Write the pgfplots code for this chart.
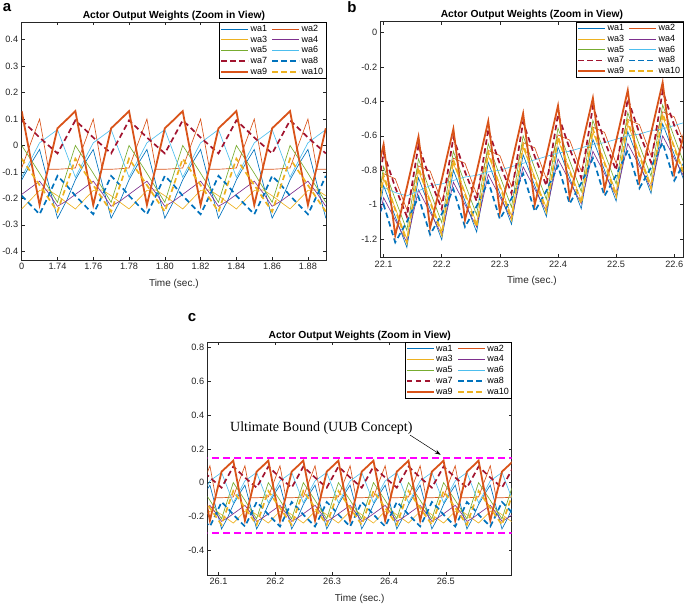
\documentclass[border=0pt]{standalone}
\usepackage{pgfplots}
\pgfplotsset{compat=1.18}
\usepackage{pgfplotstable}
\usepackage{fontspec}
\setmainfont{Liberation Sans}
\newfontfamily\timesfont{Liberation Serif}
\usetikzlibrary{arrows.meta}

\definecolor{c1}{RGB}{0,114,189}
\definecolor{c2}{RGB}{217,83,25}
\definecolor{c3}{RGB}{237,177,32}
\definecolor{c4}{RGB}{126,47,142}
\definecolor{c5}{RGB}{119,172,48}
\definecolor{c6}{RGB}{77,190,238}
\definecolor{c7}{RGB}{162,20,47}
\definecolor{axgray}{RGB}{38,38,38}
\definecolor{bound}{RGB}{255,0,255}

% panel a: 1.72 .. 1.89 s
\pgfplotstableread{
t wa1 wa2 wa3 wa4 wa5 wa6 wa7 wa8 wa9 wa10
1.720 -0.130 -0.085 -0.240 -0.185 0.000 -0.120 0.095 -0.190 0.130 -0.050
1.725 -0.070 0.008 -0.205 -0.160 -0.052 -0.055 0.063 -0.225 -0.050 -0.100
1.730 -0.015 0.100 -0.170 -0.135 -0.105 0.010 0.030 -0.260 -0.225 -0.150
1.735 -0.145 -0.090 -0.168 -0.180 -0.160 0.035 0.000 -0.190 -0.080 -0.200
1.740 -0.275 -0.090 -0.190 -0.230 -0.215 0.060 -0.030 -0.115 0.065 -0.250
1.745 -0.210 -0.088 -0.215 -0.210 -0.107 -0.030 0.032 -0.150 0.097 -0.150
1.750 -0.130 -0.085 -0.240 -0.185 0.000 -0.120 0.095 -0.190 0.130 -0.050
1.755 -0.070 0.008 -0.205 -0.160 -0.052 -0.055 0.063 -0.225 -0.050 -0.100
1.760 -0.015 0.100 -0.170 -0.135 -0.105 0.010 0.030 -0.260 -0.225 -0.150
1.765 -0.145 -0.090 -0.168 -0.180 -0.160 0.035 0.000 -0.190 -0.080 -0.200
1.770 -0.275 -0.090 -0.190 -0.230 -0.215 0.060 -0.030 -0.115 0.065 -0.250
1.775 -0.210 -0.088 -0.215 -0.210 -0.107 -0.030 0.032 -0.150 0.097 -0.150
1.780 -0.130 -0.085 -0.240 -0.185 0.000 -0.120 0.095 -0.190 0.130 -0.050
1.785 -0.070 0.008 -0.205 -0.160 -0.052 -0.055 0.063 -0.225 -0.050 -0.100
1.790 -0.015 0.100 -0.170 -0.135 -0.105 0.010 0.030 -0.260 -0.225 -0.150
1.795 -0.145 -0.090 -0.168 -0.180 -0.160 0.035 0.000 -0.190 -0.080 -0.200
1.800 -0.275 -0.090 -0.190 -0.230 -0.215 0.060 -0.030 -0.115 0.065 -0.250
1.805 -0.210 -0.088 -0.215 -0.210 -0.107 -0.030 0.032 -0.150 0.097 -0.150
1.810 -0.130 -0.085 -0.240 -0.185 0.000 -0.120 0.095 -0.190 0.130 -0.050
1.815 -0.070 0.008 -0.205 -0.160 -0.052 -0.055 0.063 -0.225 -0.050 -0.100
1.820 -0.015 0.100 -0.170 -0.135 -0.105 0.010 0.030 -0.260 -0.225 -0.150
1.825 -0.145 -0.090 -0.168 -0.180 -0.160 0.035 0.000 -0.190 -0.080 -0.200
1.830 -0.275 -0.090 -0.190 -0.230 -0.215 0.060 -0.030 -0.115 0.065 -0.250
1.835 -0.210 -0.088 -0.215 -0.210 -0.107 -0.030 0.032 -0.150 0.097 -0.150
1.840 -0.130 -0.085 -0.240 -0.185 0.000 -0.120 0.095 -0.190 0.130 -0.050
1.845 -0.070 0.008 -0.205 -0.160 -0.052 -0.055 0.063 -0.225 -0.050 -0.100
1.850 -0.015 0.100 -0.170 -0.135 -0.105 0.010 0.030 -0.260 -0.225 -0.150
1.855 -0.145 -0.090 -0.168 -0.180 -0.160 0.035 0.000 -0.190 -0.080 -0.200
1.860 -0.275 -0.090 -0.190 -0.230 -0.215 0.060 -0.030 -0.115 0.065 -0.250
1.865 -0.210 -0.088 -0.215 -0.210 -0.107 -0.030 0.032 -0.150 0.097 -0.150
1.870 -0.130 -0.085 -0.240 -0.185 0.000 -0.120 0.095 -0.190 0.130 -0.050
1.875 -0.070 0.008 -0.205 -0.160 -0.052 -0.055 0.063 -0.225 -0.050 -0.100
1.880 -0.015 0.100 -0.170 -0.135 -0.105 0.010 0.030 -0.260 -0.225 -0.150
1.885 -0.145 -0.090 -0.168 -0.180 -0.160 0.035 0.000 -0.190 -0.080 -0.200
1.890 -0.275 -0.090 -0.190 -0.230 -0.215 0.060 -0.030 -0.115 0.065 -0.250
}\tabA

% panel b: 22.08 .. 22.62 s
\pgfplotstableread{
t wa1 wa2 wa3 wa4 wa5 wa6 wa7 wa8 wa9 wa10
22.08 -1.295 -1.075 -1.245 -1.265 -1.195 -0.880 -1.115 -1.145 -0.945 -1.265
22.10 -0.890 -0.820 -0.850 -0.960 -0.780 -0.900 -0.700 -1.000 -0.650 -0.830
22.12 -1.070 -0.850 -1.020 -1.090 -0.970 -0.930 -0.900 -1.220 -1.180 -1.030
22.14 -1.250 -1.030 -1.200 -1.220 -1.150 -0.950 -1.070 -1.100 -0.900 -1.220
22.16 -0.845 -0.775 -0.805 -0.915 -0.735 -0.920 -0.655 -0.955 -0.605 -0.785
22.18 -1.025 -0.805 -0.975 -1.045 -0.925 -0.890 -0.855 -1.175 -1.135 -0.985
22.20 -1.205 -0.985 -1.155 -1.175 -1.105 -0.880 -1.025 -1.055 -0.855 -1.175
22.22 -0.800 -0.730 -0.760 -0.870 -0.690 -0.860 -0.610 -0.910 -0.560 -0.740
22.24 -0.980 -0.760 -0.930 -1.000 -0.880 -0.840 -0.810 -1.130 -1.090 -0.940
22.26 -1.160 -0.940 -1.110 -1.130 -1.060 -0.830 -0.980 -1.010 -0.810 -1.130
22.28 -0.755 -0.685 -0.715 -0.825 -0.645 -0.810 -0.565 -0.865 -0.515 -0.695
22.30 -0.935 -0.715 -0.885 -0.955 -0.835 -0.800 -0.765 -1.085 -1.045 -0.895
22.32 -1.115 -0.895 -1.065 -1.085 -1.015 -0.780 -0.935 -0.965 -0.765 -1.085
22.34 -0.710 -0.640 -0.670 -0.780 -0.600 -0.760 -0.520 -0.820 -0.470 -0.650
22.36 -0.890 -0.670 -0.840 -0.910 -0.790 -0.740 -0.720 -1.040 -1.000 -0.850
22.38 -1.070 -0.850 -1.020 -1.040 -0.970 -0.720 -0.890 -0.920 -0.720 -1.040
22.40 -0.665 -0.595 -0.625 -0.735 -0.555 -0.700 -0.475 -0.775 -0.425 -0.605
22.42 -0.845 -0.625 -0.795 -0.865 -0.745 -0.690 -0.675 -0.995 -0.955 -0.805
22.44 -1.025 -0.805 -0.975 -0.995 -0.925 -0.670 -0.845 -0.875 -0.675 -0.995
22.46 -0.620 -0.550 -0.580 -0.690 -0.510 -0.650 -0.430 -0.730 -0.380 -0.560
22.48 -0.800 -0.580 -0.750 -0.820 -0.700 -0.640 -0.630 -0.950 -0.910 -0.760
22.50 -0.980 -0.760 -0.930 -0.950 -0.880 -0.620 -0.800 -0.830 -0.630 -0.950
22.52 -0.575 -0.505 -0.535 -0.645 -0.465 -0.600 -0.385 -0.685 -0.335 -0.515
22.54 -0.755 -0.535 -0.705 -0.775 -0.655 -0.590 -0.585 -0.905 -0.865 -0.715
22.56 -0.935 -0.715 -0.885 -0.905 -0.835 -0.570 -0.755 -0.785 -0.585 -0.905
22.58 -0.530 -0.460 -0.490 -0.600 -0.420 -0.560 -0.340 -0.640 -0.290 -0.470
22.60 -0.710 -0.490 -0.660 -0.730 -0.610 -0.540 -0.540 -0.860 -0.820 -0.670
22.62 -0.890 -0.670 -0.840 -0.860 -0.790 -0.520 -0.710 -0.740 -0.540 -0.860
}\tabB

% panel c: 26.064 .. 26.619 s
\pgfplotstableread{
t wa1 wa2 wa3 wa4 wa5 wa6 wa7 wa8 wa9 wa10
26.0643 -0.130 -0.085 -0.240 -0.185 0.000 -0.120 0.095 -0.190 0.130 -0.050
26.0746 -0.070 0.008 -0.205 -0.160 -0.052 -0.055 0.063 -0.225 -0.050 -0.100
26.0849 -0.015 0.100 -0.170 -0.135 -0.105 0.010 0.030 -0.260 -0.225 -0.150
26.0951 -0.145 -0.090 -0.168 -0.180 -0.160 0.035 0.000 -0.190 -0.080 -0.200
26.1054 -0.275 -0.090 -0.190 -0.230 -0.215 0.060 -0.030 -0.115 0.065 -0.250
26.1157 -0.210 -0.088 -0.215 -0.210 -0.107 -0.030 0.032 -0.150 0.097 -0.150
26.1260 -0.130 -0.085 -0.240 -0.185 0.000 -0.120 0.095 -0.190 0.130 -0.050
26.1363 -0.070 0.008 -0.205 -0.160 -0.052 -0.055 0.063 -0.225 -0.050 -0.100
26.1465 -0.015 0.100 -0.170 -0.135 -0.105 0.010 0.030 -0.260 -0.225 -0.150
26.1568 -0.145 -0.090 -0.168 -0.180 -0.160 0.035 0.000 -0.190 -0.080 -0.200
26.1671 -0.275 -0.090 -0.190 -0.230 -0.215 0.060 -0.030 -0.115 0.065 -0.250
26.1774 -0.210 -0.088 -0.215 -0.210 -0.107 -0.030 0.032 -0.150 0.097 -0.150
26.1877 -0.130 -0.085 -0.240 -0.185 0.000 -0.120 0.095 -0.190 0.130 -0.050
26.1979 -0.070 0.008 -0.205 -0.160 -0.052 -0.055 0.063 -0.225 -0.050 -0.100
26.2082 -0.015 0.100 -0.170 -0.135 -0.105 0.010 0.030 -0.260 -0.225 -0.150
26.2185 -0.145 -0.090 -0.168 -0.180 -0.160 0.035 0.000 -0.190 -0.080 -0.200
26.2288 -0.275 -0.090 -0.190 -0.230 -0.215 0.060 -0.030 -0.115 0.065 -0.250
26.2391 -0.210 -0.088 -0.215 -0.210 -0.107 -0.030 0.032 -0.150 0.097 -0.150
26.2493 -0.130 -0.085 -0.240 -0.185 0.000 -0.120 0.095 -0.190 0.130 -0.050
26.2596 -0.070 0.008 -0.205 -0.160 -0.052 -0.055 0.063 -0.225 -0.050 -0.100
26.2699 -0.015 0.100 -0.170 -0.135 -0.105 0.010 0.030 -0.260 -0.225 -0.150
26.2802 -0.145 -0.090 -0.168 -0.180 -0.160 0.035 0.000 -0.190 -0.080 -0.200
26.2905 -0.275 -0.090 -0.190 -0.230 -0.215 0.060 -0.030 -0.115 0.065 -0.250
26.3007 -0.210 -0.088 -0.215 -0.210 -0.107 -0.030 0.032 -0.150 0.097 -0.150
26.3110 -0.130 -0.085 -0.240 -0.185 0.000 -0.120 0.095 -0.190 0.130 -0.050
26.3213 -0.070 0.008 -0.205 -0.160 -0.052 -0.055 0.063 -0.225 -0.050 -0.100
26.3316 -0.015 0.100 -0.170 -0.135 -0.105 0.010 0.030 -0.260 -0.225 -0.150
26.3419 -0.145 -0.090 -0.168 -0.180 -0.160 0.035 0.000 -0.190 -0.080 -0.200
26.3521 -0.275 -0.090 -0.190 -0.230 -0.215 0.060 -0.030 -0.115 0.065 -0.250
26.3624 -0.210 -0.088 -0.215 -0.210 -0.107 -0.030 0.032 -0.150 0.097 -0.150
26.3727 -0.130 -0.085 -0.240 -0.185 0.000 -0.120 0.095 -0.190 0.130 -0.050
26.3830 -0.070 0.008 -0.205 -0.160 -0.052 -0.055 0.063 -0.225 -0.050 -0.100
26.3933 -0.015 0.100 -0.170 -0.135 -0.105 0.010 0.030 -0.260 -0.225 -0.150
26.4035 -0.145 -0.090 -0.168 -0.180 -0.160 0.035 0.000 -0.190 -0.080 -0.200
26.4138 -0.275 -0.090 -0.190 -0.230 -0.215 0.060 -0.030 -0.115 0.065 -0.250
26.4241 -0.210 -0.088 -0.215 -0.210 -0.107 -0.030 0.032 -0.150 0.097 -0.150
26.4344 -0.130 -0.085 -0.240 -0.185 0.000 -0.120 0.095 -0.190 0.130 -0.050
26.4447 -0.070 0.008 -0.205 -0.160 -0.052 -0.055 0.063 -0.225 -0.050 -0.100
26.4549 -0.015 0.100 -0.170 -0.135 -0.105 0.010 0.030 -0.260 -0.225 -0.150
26.4652 -0.145 -0.090 -0.168 -0.180 -0.160 0.035 0.000 -0.190 -0.080 -0.200
26.4755 -0.275 -0.090 -0.190 -0.230 -0.215 0.060 -0.030 -0.115 0.065 -0.250
26.4858 -0.210 -0.088 -0.215 -0.210 -0.107 -0.030 0.032 -0.150 0.097 -0.150
26.4961 -0.130 -0.085 -0.240 -0.185 0.000 -0.120 0.095 -0.190 0.130 -0.050
26.5063 -0.070 0.008 -0.205 -0.160 -0.052 -0.055 0.063 -0.225 -0.050 -0.100
26.5166 -0.015 0.100 -0.170 -0.135 -0.105 0.010 0.030 -0.260 -0.225 -0.150
26.5269 -0.145 -0.090 -0.168 -0.180 -0.160 0.035 0.000 -0.190 -0.080 -0.200
26.5372 -0.275 -0.090 -0.190 -0.230 -0.215 0.060 -0.030 -0.115 0.065 -0.250
26.5475 -0.210 -0.088 -0.215 -0.210 -0.107 -0.030 0.032 -0.150 0.097 -0.150
26.5577 -0.130 -0.085 -0.240 -0.185 0.000 -0.120 0.095 -0.190 0.130 -0.050
26.5680 -0.070 0.008 -0.205 -0.160 -0.052 -0.055 0.063 -0.225 -0.050 -0.100
26.5783 -0.015 0.100 -0.170 -0.135 -0.105 0.010 0.030 -0.260 -0.225 -0.150
26.5886 -0.145 -0.090 -0.168 -0.180 -0.160 0.035 0.000 -0.190 -0.080 -0.200
26.5989 -0.275 -0.090 -0.190 -0.230 -0.215 0.060 -0.030 -0.115 0.065 -0.250
26.6091 -0.210 -0.088 -0.215 -0.210 -0.107 -0.030 0.032 -0.150 0.097 -0.150
26.6194 -0.130 -0.085 -0.240 -0.185 0.000 -0.120 0.095 -0.190 0.130 -0.050
}\tabC

\pgfplotsset{
  panel/.style={
    scale only axis,
    axis line style={axgray, line width=0.5pt},
    tick style={axgray, line width=0.5pt},
    major tick length=3pt,
    tick align=inside,
    ticklabel style={font=\fontsize{9.2}{10}\selectfont, text=axgray},
    xlabel style={font=\fontsize{10}{11}\selectfont, text=axgray, yshift=-2pt},
    title style={font=\bfseries\fontsize{10.3}{12}\selectfont, yshift=-8pt},
    xlabel={Time (sec.)},
    title={Actor Output Weights (Zoom in View)},
    legend columns=2,
    legend cell align=left,
    legend style={at={(1,1)}, anchor=north east, draw=black, line width=0.5pt,
      font=\fontsize{9}{10}\selectfont, inner xsep=1pt, inner ysep=0.8pt,
      nodes={inner sep=1.5pt},
      /tikz/every even column/.append style={column sep=3pt}},
    legend image code/.code={\draw[#1] (0pt,0pt) -- (27pt,0pt);},
  },
  thinl/.style={line width=0.65pt},
  dashl/.style={line width=1.7pt, dash pattern=on 5.5pt off 3.5pt},
}

\newcommand{\allseries}[1]{%
  \addplot[thinl, color=c1] table[x=t, y=wa1] {#1};
  \addplot[thinl, color=c2] table[x=t, y=wa2] {#1};
  \addplot[thinl, color=c3] table[x=t, y=wa3] {#1};
  \addplot[thinl, color=c4] table[x=t, y=wa4] {#1};
  \addplot[thinl, color=c5] table[x=t, y=wa5] {#1};
  \addplot[thinl, color=c6] table[x=t, y=wa6] {#1};
  \addplot[dashl, color=c7] table[x=t, y=wa7] {#1};
  \addplot[dashl, color=c1] table[x=t, y=wa8] {#1};
  \addplot[line width=1.8pt, color=c2] table[x=t, y=wa9] {#1};
  \addplot[dashl, color=c3] table[x=t, y=wa10] {#1};
  \legend{wa1, wa2, wa3, wa4, wa5, wa6, wa7, wa8, wa9, wa10}
}

\begin{document}
\begin{tikzpicture}
\useasboundingbox (0,0) rectangle (685pt,605pt);

% panel a
\begin{axis}[panel, at={(21.7pt,345pt)}, anchor=south west,
  width=304.3pt, height=237.5pt,
  xmin=1.72, xmax=1.8901, ymin=-0.433, ymax=0.465,
  xtick={1.72,1.74,1.76,1.78,1.80,1.82,1.84,1.86,1.88},
  xticklabels={0,1.74,1.76,1.78,1.80,1.82,1.84,1.86,1.88},
  ytick={-0.4,-0.3,-0.2,-0.1,0,0.1,0.2,0.3,0.4},
  yticklabels={-0.4,-0.3,-0.2,-0.1,0,0.1,0.2,0.3,0.4}]
\allseries{\tabA}
\end{axis}

% panel b
\begin{axis}[panel, at={(380.7pt,347.7pt)}, anchor=south west,
  width=302.3pt, height=235.6pt,
  xmin=22.095, xmax=22.615, ymin=-1.307, ymax=0.064,
  xtick={22.1,22.2,22.3,22.4,22.5,22.6},
  xticklabels={22.1,22.2,22.3,22.4,22.5,22.6},
  ytick={-1.2,-1,-0.8,-0.6,-0.4,-0.2,0},
  yticklabels={-1.2,-1,-0.8,-0.6,-0.4,-0.2,0}]
\allseries{\tabB}
\end{axis}

% panel c
\begin{axis}[panel, at={(207.7pt,30pt)}, anchor=south west,
  width=304pt, height=232.7pt,
  xmin=26.081, xmax=26.616, ymin=-0.548, ymax=0.832,
  xtick={26.1,26.2,26.3,26.4,26.5},
  xticklabels={26.1,26.2,26.3,26.4,26.5},
  ytick={-0.4,-0.2,0,0.2,0.4,0.6,0.8},
  yticklabels={-0.4,-0.2,0,0.2,0.4,0.6,0.8}]
\allseries{\tabC}
\addplot[bound, line width=2pt, dash pattern=on 7pt off 4pt, forget plot]
  coordinates {(26.07,0.148) (26.62,0.148)};
\addplot[bound, line width=2pt, dash pattern=on 7pt off 4pt, forget plot]
  coordinates {(26.07,-0.300) (26.62,-0.300)};
\node[font=\timesfont\fontsize{14}{16}\selectfont] at (axis cs:26.281,0.32)
  {Ultimate Bound (UUB Concept)};
\draw[-{Stealth[length=6pt,width=4pt]}, line width=0.5pt]
  (axis cs:26.437,0.282) -- (axis cs:26.491,0.165);
\end{axis}

\node[font=\bfseries\fontsize{15}{17}\selectfont] at (7pt,597pt) {a};
\node[font=\bfseries\fontsize{15}{17}\selectfont] at (352pt,597.5pt) {b};
\node[font=\bfseries\fontsize{15}{17}\selectfont] at (192pt,287.5pt) {c};
\end{tikzpicture}
\end{document}
